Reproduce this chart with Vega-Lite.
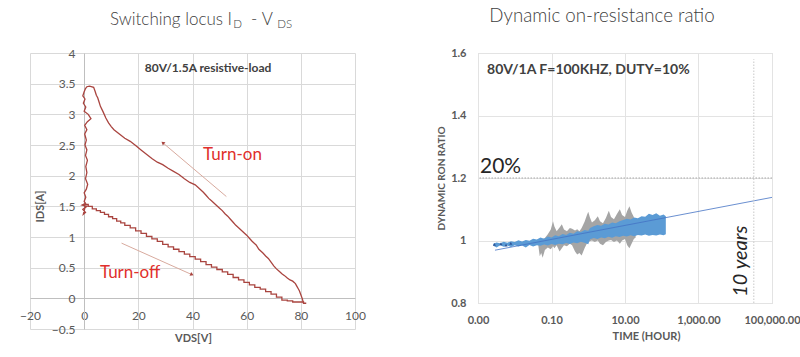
{
"$schema": "https://vega.github.io/schema/vega-lite/v6.json",
"background": "white",
"padding": {"left": 19, "top": 6, "right": 0, "bottom": 5},
"spacing": 70,
"config": {
  "font": "Lato",
  "view": {"stroke": null},
  "axis": {"labelColor": "#595959", "titleColor": "#595959", "labelFont": "Lato", "titleFont": "Lato", "ticks": false, "gridColor": "#d9d9d9", "domainColor": "#bfbfbf", "labelFontSize": 11, "titleFontSize": 11}
},
"datasets": {
  "on": [
    {"k":1,"V":81,"I":-0.08},{"k":2,"V":80.5,"I":0.0},{"k":3,"V":80,"I":0.06},{"k":4,"V":79.5,"I":0.12},{"k":5,"V":79,"I":0.16},
    {"k":6,"V":78.5,"I":0.2},{"k":7,"V":78,"I":0.24},{"k":8,"V":77,"I":0.28},{"k":9,"V":76,"I":0.3},{"k":10,"V":75,"I":0.33},
    {"k":11,"V":74,"I":0.37},{"k":12,"V":73,"I":0.4},{"k":13,"V":72,"I":0.44},{"k":14,"V":71,"I":0.48},{"k":15,"V":70,"I":0.53},
    {"k":16,"V":69,"I":0.59},{"k":17,"V":68,"I":0.65},{"k":18,"V":67,"I":0.69},{"k":19,"V":66,"I":0.74},{"k":20,"V":64.5,"I":0.8},
    {"k":21,"V":63.5,"I":0.87},{"k":22,"V":62,"I":0.93},{"k":23,"V":61,"I":0.98},{"k":24,"V":60,"I":1.03},{"k":25,"V":59,"I":1.07},
    {"k":26,"V":58,"I":1.11},{"k":27,"V":57,"I":1.15},{"k":28,"V":56,"I":1.19},{"k":29,"V":55,"I":1.24},{"k":30,"V":54,"I":1.29},
    {"k":31,"V":53,"I":1.34},{"k":32,"V":52,"I":1.38},{"k":33,"V":51,"I":1.43},{"k":34,"V":50,"I":1.47},{"k":35,"V":49,"I":1.51},
    {"k":36,"V":48,"I":1.55},{"k":37,"V":47,"I":1.59},{"k":38,"V":46,"I":1.63},{"k":39,"V":45,"I":1.68},{"k":40,"V":44,"I":1.73},
    {"k":41,"V":43,"I":1.77},{"k":42,"V":42,"I":1.81},{"k":43,"V":41,"I":1.85},{"k":44,"V":39,"I":1.89},{"k":45,"V":37,"I":1.95},
    {"k":46,"V":35,"I":2.02},{"k":47,"V":33,"I":2.07},{"k":48,"V":31,"I":2.12},{"k":49,"V":29,"I":2.18},{"k":50,"V":27,"I":2.22},
    {"k":51,"V":25,"I":2.28},{"k":52,"V":23,"I":2.35},{"k":53,"V":21,"I":2.42},{"k":54,"V":19,"I":2.49},{"k":55,"V":17,"I":2.56},
    {"k":56,"V":15,"I":2.61},{"k":57,"V":13,"I":2.68},{"k":58,"V":11,"I":2.75},{"k":59,"V":10,"I":2.8},{"k":60,"V":9,"I":2.86},
    {"k":61,"V":8,"I":2.94},{"k":62,"V":7,"I":3.04},{"k":63,"V":6,"I":3.13},{"k":64,"V":5.5,"I":3.2},{"k":65,"V":5,"I":3.27},
    {"k":66,"V":4.5,"I":3.31},{"k":67,"V":4,"I":3.38},{"k":68,"V":3.5,"I":3.44},{"k":69,"V":2,"I":3.46},{"k":70,"V":1,"I":3.45},
    {"k":71,"V":0.5,"I":3.42},{"k":72,"V":0,"I":3.37},{"k":73,"V":-0.5,"I":3.3},{"k":74,"V":0.3,"I":3.25},{"k":75,"V":-0.3,"I":3.18},
    {"k":76,"V":0.6,"I":3.12},{"k":77,"V":0,"I":3.05},{"k":78,"V":1.5,"I":3.0},{"k":79,"V":2.5,"I":2.93},{"k":80,"V":1.2,"I":2.88},
    {"k":81,"V":0.2,"I":2.82},{"k":82,"V":1,"I":2.75},{"k":83,"V":0.2,"I":2.68},{"k":84,"V":0.8,"I":2.58},{"k":85,"V":0.3,"I":2.5},
    {"k":86,"V":1,"I":2.42},{"k":87,"V":0.5,"I":2.33},{"k":88,"V":1.2,"I":2.25},{"k":89,"V":0.6,"I":2.15},{"k":90,"V":1,"I":2.05},
    {"k":91,"V":0.5,"I":1.95},{"k":92,"V":1.3,"I":1.86},{"k":93,"V":0.8,"I":1.78},{"k":94,"V":0,"I":1.72},{"k":95,"V":0.6,"I":1.65},
    {"k":96,"V":0,"I":1.58},{"k":97,"V":0.5,"I":1.55},{"k":98,"V":-0.8,"I":1.52},{"k":99,"V":1,"I":1.5},{"k":100,"V":-0.5,"I":1.45},
    {"k":101,"V":0.5,"I":1.4},{"k":102,"V":-0.3,"I":1.37},{"k":103,"V":0.3,"I":1.48},{"k":104,"V":0,"I":1.53}
  ],
  "off": [
    {"V":0,"I":1.53},{"V":1.5,"I":1.5},{"V":3,"I":1.46},{"V":4.5,"I":1.43},{"V":6,"I":1.4},{"V":7.5,"I":1.37},{"V":9,"I":1.33},
    {"V":10.5,"I":1.3},{"V":12,"I":1.26},{"V":13.5,"I":1.23},{"V":15,"I":1.19},{"V":17,"I":1.15},{"V":19,"I":1.1},{"V":21,"I":1.06},
    {"V":23,"I":1.01},{"V":25,"I":0.97},{"V":27,"I":0.93},{"V":29,"I":0.88},{"V":31,"I":0.84},{"V":33,"I":0.8},{"V":35,"I":0.76},
    {"V":37,"I":0.72},{"V":39,"I":0.68},{"V":41,"I":0.64},{"V":43,"I":0.6},{"V":45,"I":0.55},{"V":47,"I":0.51},{"V":49,"I":0.47},
    {"V":51,"I":0.43},{"V":53,"I":0.39},{"V":55,"I":0.34},{"V":57,"I":0.3},{"V":59,"I":0.26},{"V":61,"I":0.22},{"V":63,"I":0.18},
    {"V":65,"I":0.15},{"V":67,"I":0.11},{"V":69,"I":0.07},{"V":71,"I":0.02},{"V":73,"I":-0.03},{"V":75,"I":-0.04},{"V":77,"I":-0.06},
    {"V":79,"I":-0.06},{"V":81,"I":-0.08},{"V":82,"I":-0.08}
  ],
  "arrows": [
    {"V":52.5,"I":1.66,"V2":29.2,"I2":2.53},
    {"V":13.8,"I":0.9,"V2":39.6,"I2":0.39}
  ],
  "gray": [
    {"t":0.0437,"lo":0.985,"hi":0.995},{"t":0.0479,"lo":0.95,"hi":1.0},{"t":0.0525,"lo":0.96,"hi":1.002},{"t":0.0575,"lo":0.945,"hi":1.005},
    {"t":0.0661,"lo":0.97,"hi":1.008},{"t":0.0794,"lo":0.978,"hi":1.02},{"t":0.0955,"lo":0.972,"hi":1.035},{"t":0.11,"lo":0.982,"hi":1.062},
    {"t":0.12,"lo":0.975,"hi":1.045},{"t":0.138,"lo":0.985,"hi":1.03},{"t":0.166,"lo":0.965,"hi":1.042},{"t":0.191,"lo":0.975,"hi":1.052},
    {"t":0.219,"lo":0.985,"hi":1.035},{"t":0.263,"lo":0.982,"hi":1.03},{"t":0.316,"lo":0.99,"hi":1.04},{"t":0.363,"lo":0.985,"hi":1.038},
    {"t":0.437,"lo":0.965,"hi":1.032},{"t":0.501,"lo":0.955,"hi":1.036},{"t":0.575,"lo":0.96,"hi":1.03},{"t":0.661,"lo":0.952,"hi":1.04},
    {"t":0.794,"lo":0.975,"hi":1.06},{"t":0.912,"lo":0.99,"hi":1.08},{"t":1.0,"lo":0.995,"hi":1.092},{"t":1.1,"lo":0.998,"hi":1.075},
    {"t":1.26,"lo":1.0,"hi":1.058},{"t":1.51,"lo":0.995,"hi":1.065},{"t":1.82,"lo":1.0,"hi":1.078},{"t":2.09,"lo":0.99,"hi":1.062},
    {"t":2.51,"lo":0.985,"hi":1.055},{"t":3.02,"lo":0.995,"hi":1.072},{"t":3.63,"lo":1.0,"hi":1.095},{"t":4.17,"lo":1.002,"hi":1.075},
    {"t":5.01,"lo":0.995,"hi":1.068},{"t":6.03,"lo":1.0,"hi":1.085},{"t":7.24,"lo":0.99,"hi":1.1},{"t":8.32,"lo":1.0,"hi":1.082},
    {"t":10.0,"lo":1.005,"hi":1.075},{"t":11.5,"lo":0.985,"hi":1.095},{"t":13.2,"lo":0.975,"hi":1.11},{"t":15.1,"lo":0.99,"hi":1.09},
    {"t":17.4,"lo":1.005,"hi":1.075},{"t":19.5,"lo":1.01,"hi":1.045}
  ],
  "blue": [
    {"t":0.0026,"lo":0.983,"hi":0.99},{"t":0.0032,"lo":0.978,"hi":0.994},{"t":0.004,"lo":0.985,"hi":0.991},{"t":0.005,"lo":0.98,"hi":0.996},
    {"t":0.0063,"lo":0.984,"hi":0.993},{"t":0.0079,"lo":0.979,"hi":0.998},{"t":0.01,"lo":0.985,"hi":0.995},{"t":0.0126,"lo":0.981,"hi":1.001},
    {"t":0.0158,"lo":0.984,"hi":0.997},{"t":0.02,"lo":0.978,"hi":1.002},{"t":0.0251,"lo":0.986,"hi":0.999},{"t":0.0316,"lo":0.981,"hi":1.006},
    {"t":0.0398,"lo":0.985,"hi":1.003},{"t":0.0501,"lo":0.983,"hi":1.01},{"t":0.0631,"lo":0.987,"hi":1.006},{"t":0.0794,"lo":0.984,"hi":1.013},
    {"t":0.1,"lo":0.989,"hi":1.01},{"t":0.126,"lo":0.986,"hi":1.017},{"t":0.158,"lo":0.99,"hi":1.014},{"t":0.2,"lo":0.988,"hi":1.021},
    {"t":0.251,"lo":0.992,"hi":1.018},{"t":0.316,"lo":0.989,"hi":1.025},{"t":0.398,"lo":0.994,"hi":1.022},{"t":0.501,"lo":0.991,"hi":1.03},
    {"t":0.631,"lo":0.996,"hi":1.027},{"t":0.794,"lo":0.993,"hi":1.034},{"t":1.0,"lo":0.988,"hi":1.031},{"t":1.12,"lo":1.004,"hi":1.04},
    {"t":1.41,"lo":1.008,"hi":1.046},{"t":1.78,"lo":1.005,"hi":1.05},{"t":2.24,"lo":1.01,"hi":1.047},{"t":2.82,"lo":1.007,"hi":1.054},
    {"t":3.55,"lo":1.012,"hi":1.051},{"t":4.47,"lo":1.009,"hi":1.058},{"t":5.62,"lo":1.014,"hi":1.055},{"t":7.08,"lo":1.011,"hi":1.062},
    {"t":8.91,"lo":1.015,"hi":1.066},{"t":11.2,"lo":1.013,"hi":1.07},{"t":14.1,"lo":1.017,"hi":1.067},{"t":17.8,"lo":1.014,"hi":1.074},
    {"t":22.4,"lo":1.018,"hi":1.071},{"t":28.2,"lo":1.016,"hi":1.078},{"t":35.5,"lo":1.019,"hi":1.076},{"t":44.7,"lo":1.015,"hi":1.086},
    {"t":56.2,"lo":1.018,"hi":1.082},{"t":70.8,"lo":1.016,"hi":1.087},{"t":89.1,"lo":1.019,"hi":1.079},{"t":112,"lo":1.017,"hi":1.083},
    {"t":129,"lo":1.02,"hi":1.078}
  ],
  "dark": [
    {"t":0.0028,"r":0.986},{"t":0.0042,"r":0.988},{"t":0.0058,"r":0.984},{"t":0.0078,"r":0.989}
  ],
  "trend": [
    {"t":0.0029,"r":0.969},{"t":100000,"r":1.138}
  ]
},
"hconcat": [
  {
    "width": 325, "height": 276,
    "resolve": {"axis": {"x": "independent", "y": "independent"}},
    "layer": [
      {"data": {"name": "on"}, "mark": {"type": "line", "color": "#a9443f", "strokeWidth": 1.3},
       "encoding": {
         "x": {"field": "V", "type": "quantitative", "scale": {"domain": [-20, 100], "nice": false, "zero": false},
               "axis": {"orient": "bottom", "title": null, "values": [-20,0,20,40,60,80,100], "grid": true, "labels": false, "domain": false, "ticks": false}},
         "y": {"field": "I", "type": "quantitative", "scale": {"domain": [-0.5, 4], "nice": false, "zero": false},
               "axis": {"orient": "left", "title": null, "values": [-0.5,0,0.5,1,1.5,2,2.5,3,3.5,4], "grid": true, "labels": false, "domain": false, "ticks": false}},
         "order": {"field": "k", "type": "quantitative"}
       }},
      {"data": {"name": "off"}, "mark": {"type": "line", "color": "#a9443f", "strokeWidth": 1.3, "interpolate": "step-after"},
       "encoding": {
         "x": {"field": "V", "type": "quantitative",
               "axis": {"orient": "bottom", "title": "VDS[V]", "values": [-20,0,20,40,60,80,100], "format": "d", "offset": -31, "grid": false, "domain": true, "labelFontSize": 12, "labelPadding": 12, "titlePadding": 11, "titleX": 163, "titleFontWeight": "bold", "labelFlush": false, "labelOverlap": false}},
         "y": {"field": "I", "type": "quantitative",
               "axis": {"orient": "left", "title": "IDS[A]", "values": [-0.5,0,0.5,1,1.5,2,2.5,3,3.5,4], "format": ".1~f", "offset": -54, "grid": false, "domain": true, "labelFontSize": 12, "labelPadding": 9, "titlePadding": 6, "titleFontWeight": "bold", "titleY": 153, "labelFlush": false, "labelOverlap": false}}
       }},
      {"data": {"name": "arrows"}, "mark": {"type": "rule", "color": "#d8aa9e", "strokeWidth": 1},
       "encoding": {"x": {"field": "V", "type": "quantitative", "axis": null}, "y": {"field": "I", "type": "quantitative", "axis": null}, "x2": {"field": "V2"}, "y2": {"field": "I2"}}},
      {"data": {"values": [{}]}, "mark": {"type": "point", "shape": "triangle", "filled": true, "size": 16, "color": "#a9443f", "opacity": 1, "angle": 310},
       "encoding": {"x": {"datum": 29.2, "axis": null}, "y": {"datum": 2.53, "axis": null}}},
      {"data": {"values": [{}]}, "mark": {"type": "point", "shape": "triangle", "filled": true, "size": 16, "color": "#a9443f", "opacity": 1, "angle": 114},
       "encoding": {"x": {"datum": 39.6, "axis": null}, "y": {"datum": 0.39, "axis": null}}},
      {"data": {"values": [{}]}, "mark": {"type": "text", "align": "left", "baseline": "middle", "fontSize": 12, "fontWeight": "bold", "color": "#404040"},
       "encoding": {"x": {"datum": 22.4, "axis": null}, "y": {"datum": 3.76, "axis": null}, "text": {"value": "80V/1.5A resistive-load"}}},
      {"data": {"values": [{}]}, "mark": {"type": "text", "align": "left", "baseline": "middle", "fontSize": 17, "color": "#e0302c"},
       "encoding": {"x": {"datum": 43.9, "axis": null}, "y": {"datum": 2.34, "axis": null}, "text": {"value": "Turn-on"}}},
      {"data": {"values": [{}]}, "mark": {"type": "text", "align": "left", "baseline": "middle", "fontSize": 17, "color": "#e0302c"},
       "encoding": {"x": {"datum": 5.8, "axis": null}, "y": {"datum": 0.41, "axis": null}, "text": {"value": "Turn-off"}}},
      {"data": {"values": [{}]}, "mark": {"type": "text", "align": "right", "baseline": "alphabetic", "fontSize": 17, "fontWeight": 300, "color": "#404040"},
       "encoding": {"x": {"datum": 54.6, "axis": null}, "y": {"datum": 4.45, "axis": null}, "text": {"value": "Switching locus I"}}},
      {"data": {"values": [{}]}, "mark": {"type": "text", "align": "left", "baseline": "alphabetic", "fontSize": 11.5, "fontWeight": 300, "color": "#404040"},
       "encoding": {"x": {"datum": 55.0, "axis": null}, "y": {"datum": 4.40, "axis": null}, "text": {"value": "D"}}},
      {"data": {"values": [{}]}, "mark": {"type": "text", "align": "left", "baseline": "alphabetic", "fontSize": 17, "fontWeight": 300, "color": "#404040"},
       "encoding": {"x": {"datum": 61.6, "axis": null}, "y": {"datum": 4.45, "axis": null}, "text": {"value": "-"}}},
      {"data": {"values": [{}]}, "mark": {"type": "text", "align": "left", "baseline": "alphabetic", "fontSize": 17, "fontWeight": 300, "color": "#404040"},
       "encoding": {"x": {"datum": 65.6, "axis": null}, "y": {"datum": 4.45, "axis": null}, "text": {"value": "V"}}},
      {"data": {"values": [{}]}, "mark": {"type": "text", "align": "left", "baseline": "alphabetic", "fontSize": 11.5, "fontWeight": 300, "color": "#404040"},
       "encoding": {"x": {"datum": 71.3, "axis": null}, "y": {"datum": 4.40, "axis": null}, "text": {"value": "DS"}}}
    ]
  },
  {
    "width": 294, "height": 250,
    "view": {"stroke": "#d9d9d9"},
    "title": {"text": "Dynamic on-resistance ratio", "fontSize": 18.7, "fontWeight": 300, "color": "#404040", "font": "Lato", "anchor": "middle", "dx": -23, "offset": 21},
    "layer": [
      {"data": {"name": "gray"}, "mark": {"type": "area", "color": "#a5a5a5", "opacity": 1},
       "encoding": {
         "x": {"field": "t", "type": "quantitative", "scale": {"type": "log", "domain": [0.001, 100000], "nice": false},
               "axis": {"title": "TIME (HOUR)", "values": [0.001, 0.1, 10, 1000, 100000], "format": ",.2f", "grid": true, "gridColor": "#e3e3e3", "domain": false, "labelFontWeight": "bold", "labelFontSize": 11, "labelPadding": 11, "titlePadding": 5, "titleX": 168, "labelFlush": false, "labelOverlap": false}},
         "y": {"field": "hi", "type": "quantitative", "scale": {"domain": [0.8, 1.6], "nice": false, "zero": false},
               "axis": {"title": "DYNAMIC RON RATIO", "values": [0.8, 1, 1.2, 1.4, 1.6], "format": "~g", "grid": true, "gridColor": "#e3e3e3", "domain": false, "labelFontWeight": "bold", "labelFontSize": 11, "labelPadding": 12, "titleFontSize": 10, "titlePadding": 4, "labelFlush": false}},
         "y2": {"field": "lo"}
       }},
      {"data": {"name": "blue"}, "mark": {"type": "area", "color": "#5b9bd5", "opacity": 1},
       "encoding": {"x": {"field": "t", "type": "quantitative"}, "y": {"field": "hi", "type": "quantitative"}, "y2": {"field": "lo"}}},
      {"data": {"name": "dark"}, "mark": {"type": "point", "shape": "triangle", "filled": true, "size": 10, "color": "#2f5597", "opacity": 1},
       "encoding": {"x": {"field": "t", "type": "quantitative"}, "y": {"field": "r", "type": "quantitative"}}},
      {"data": {"name": "trend"}, "mark": {"type": "line", "color": "#4472c4", "strokeWidth": 0.8},
       "encoding": {"x": {"field": "t", "type": "quantitative"}, "y": {"field": "r", "type": "quantitative"}}},
      {"data": {"values": [{}]}, "mark": {"type": "rule", "color": "#a6a6a6", "strokeDash": [1.5, 1.5], "strokeWidth": 1},
       "encoding": {"y": {"datum": 1.2}}},
      {"data": {"values": [{}]}, "mark": {"type": "rule", "color": "#c8c8c8", "strokeDash": [1.5, 1.5], "strokeWidth": 1},
       "encoding": {"x": {"datum": 32000}, "y": {"datum": 0.8}, "y2": {"datum": 1.58}}},
      {"data": {"values": [{}]}, "mark": {"type": "text", "align": "left", "baseline": "alphabetic", "fontSize": 21, "color": "#262626", "dx": 2},
       "encoding": {"x": {"datum": 0.001}, "y": {"datum": 1.216}, "text": {"value": "20%"}}},
      {"data": {"values": [{}]}, "mark": {"type": "text", "align": "left", "baseline": "alphabetic", "angle": 270, "fontSize": 20, "fontStyle": "italic", "color": "#262626"},
       "encoding": {"x": {"datum": 21000}, "y": {"datum": 0.82}, "text": {"value": "10 years"}}},
      {"data": {"values": [{}]}, "mark": {"type": "text", "align": "left", "baseline": "middle", "fontSize": 14, "fontWeight": "bold", "color": "#404040"},
       "encoding": {"x": {"datum": 0.00176}, "y": {"datum": 1.545}, "text": {"value": "80V/1A F=100KHZ, DUTY=10%"}}}
    ]
  }
]
}
